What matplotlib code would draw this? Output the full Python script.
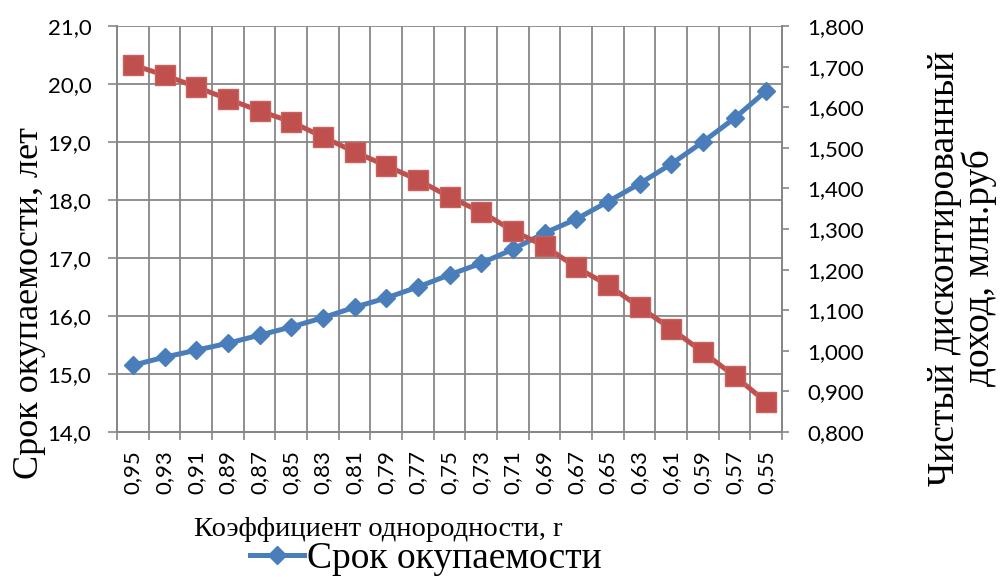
import numpy as np
import matplotlib.pyplot as plt
from matplotlib.ticker import FuncFormatter

r_values = ['0,95', '0,93', '0,91', '0,89', '0,87', '0,85', '0,83', '0,81', '0,79', '0,77', '0,75',
            '0,73', '0,71', '0,69', '0,67', '0,65', '0,63', '0,61', '0,59', '0,57', '0,55']
payback = [15.15, 15.29, 15.41, 15.53, 15.67, 15.81, 15.97, 16.15, 16.31, 16.50, 16.71,
           16.91, 17.15, 17.43, 17.67, 17.97, 18.28, 18.62, 19.00, 19.41, 19.88]
npv = [1.704, 1.679, 1.650, 1.620, 1.591, 1.564, 1.527, 1.490, 1.456, 1.421, 1.379,
       1.342, 1.296, 1.258, 1.206, 1.162, 1.108, 1.054, 0.997, 0.938, 0.874]

blue = '#4A7EBB'
red = '#C0504D'
grid_c = '#878787'
tick_font = 'Lato'
serif = 'Liberation Serif'

def comma_fmt(digits):
    return FuncFormatter(lambda v, p: (('%.' + str(digits) + 'f') % v).replace('.', ','))

fig = plt.figure(figsize=(10.07, 5.77), dpi=100)
ax = fig.add_axes([117 / 1007, 1 - 432 / 577, 665 / 1007, 406 / 577])
ax2 = ax.twinx()

x = np.arange(len(r_values))
ax.plot(x, payback, color=blue, lw=3.6, marker='D', ms=9.5, mec=blue, mfc=blue,
        label='Срок окупаемости', zorder=3)
ax2.plot(x, npv, color=red, lw=3.6, marker='s', ms=14.5, mec='#C9615E', mfc=red, mew=1,
         zorder=3)

ax.set_xlim(-0.5, len(r_values) - 0.5)
ax.set_ylim(14, 21)
ax2.set_ylim(0.8, 1.8)
ax.set_yticks(np.arange(14, 21.5, 1))
ax2.set_yticks(np.arange(0.8, 1.85, 0.1))
ax.yaxis.set_major_formatter(comma_fmt(1))
ax2.yaxis.set_major_formatter(comma_fmt(3))

# category labels at centres, tick marks on the boundaries
ax.set_xticks(x)
ax.set_xticklabels(r_values, rotation=90, fontsize=16, family=tick_font)
ax.set_xticks(np.arange(-0.5, len(r_values), 1), minor=True)
ax.tick_params(axis='x', which='major', length=0, pad=13)
ax.tick_params(axis='x', which='minor', length=6, width=1.2, color=grid_c)
ax.xaxis.grid(True, which='minor', color=grid_c, lw=1.3)
ax.yaxis.grid(True, color=grid_c, lw=1.3)
ax.set_axisbelow(True)

ax.tick_params(axis='y', length=6.5, width=1.2, color=grid_c, labelsize=16, pad=12)
ax2.tick_params(axis='y', length=5, width=1.2, color=grid_c, labelsize=16, pad=13)
for lab in ax.get_yticklabels() + ax2.get_yticklabels():
    lab.set_family(tick_font)

for a in (ax, ax2):
    for s in a.spines.values():
        s.set_color(grid_c)
        s.set_linewidth(1.3)
ax.spines['top'].set_visible(False)
ax2.spines['top'].set_visible(False)

fig.text(30 / 1007, 1 - 303 / 577, 'Срок окупаемости, лет', rotation=90,
         ha='center', va='center', fontsize=26, family=serif)
fig.text(962 / 1007, 1 - 268 / 577, 'Чистый дисконтированный\nдоход, млн.руб', rotation=90,
         ha='center', va='center', fontsize=27, family=serif, multialignment='center',
         linespacing=1.0)
fig.text(378 / 1007, 1 - 529 / 577, 'Коэффициент однородности, r',
         ha='center', va='center', fontsize=20.5, family=serif)

fig.legend(loc='center', bbox_to_anchor=(426 / 1007, 1 - 559 / 577), frameon=False,
           prop={'family': serif, 'size': 27}, handlelength=1.45, handletextpad=0.08,
           borderpad=0, borderaxespad=0)

fig.savefig('out.png', dpi=100)
